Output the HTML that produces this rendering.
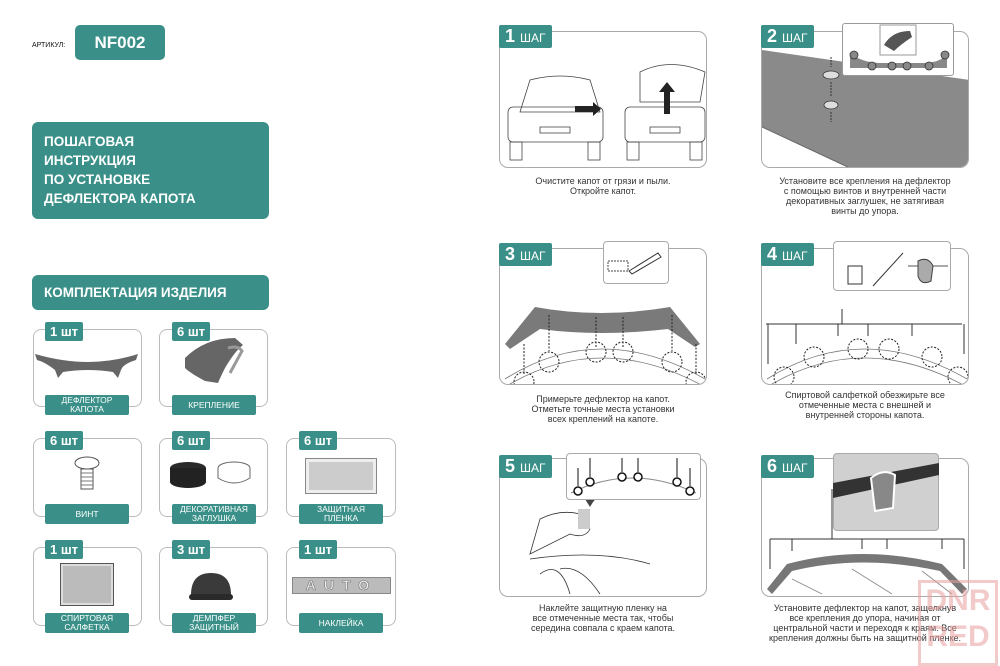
<!DOCTYPE html>
<html><head><meta charset="utf-8"><style>
*{margin:0;padding:0;box-sizing:border-box}
body{width:1000px;height:666px;background:#fff;position:relative;overflow:hidden;font-family:"Liberation Sans",sans-serif}
.a{position:absolute}
.teal{background:#3a9088;color:#fff}
.card{position:absolute;border:1px solid #bbb;border-radius:8px;background:#fff}
.qty{position:absolute;background:#3a9088;color:#fff;font-weight:bold;font-size:13px;padding:2px 5px;border-radius:2px;height:19px;line-height:15px}
.lbl{position:absolute;background:#3a9088;color:#fff;font-size:8.5px;text-align:center;line-height:9px;display:flex;align-items:center;justify-content:center;border-radius:2px}
.box{position:absolute;border:1px solid #aaa;border-radius:9px;background:#fff;overflow:hidden}
.step{position:absolute;background:#3a9088;color:#fff;font-weight:bold;font-size:18px;padding:2px 6px;height:23px;line-height:19px;border-radius:2px}
.step span{font-size:12px;font-weight:normal}
.cap{position:absolute;font-size:9px;color:#333;text-align:center;line-height:10px}
</style></head><body>

<div class="a" style="left:32px;top:42px;font-size:7px;color:#111">АРТИКУЛ:</div>
<div class="a teal" style="left:75px;top:25px;width:90px;height:35px;border-radius:5px;font-weight:bold;font-size:17px;line-height:35px;text-align:center">NF002</div>

<div class="a teal" style="left:32px;top:122px;width:237px;height:97px;border-radius:6px;font-weight:bold;font-size:13.5px;line-height:19px;padding:10px 0 0 12px">ПОШАГОВАЯ<br>ИНСТРУКЦИЯ<br>ПО УСТАНОВКЕ<br>ДЕФЛЕКТОРА КАПОТА</div>
<div class="a teal" style="left:32px;top:275px;width:237px;height:35px;border-radius:6px;font-weight:bold;font-size:13.5px;line-height:35px;padding-left:12px">КОМПЛЕКТАЦИЯ ИЗДЕЛИЯ</div>

<div class="card" style="left:33px;top:329px;width:109px;height:78px"></div>
<div class="qty" style="left:45px;top:322px">1 шт</div>
<svg class="a" style="left:33px;top:350px" width="109" height="35"><path d="M2 4 Q30 12 55 12 Q80 12 105 4 L103 10 Q90 14 88 20 L85 28 L80 22 Q55 18 30 22 L25 28 L22 20 Q12 12 4 10 Z" fill="#666"/></svg>
<div class="lbl" style="left:45px;top:395px;width:84px;height:20px">ДЕФЛЕКТОР<br>КАПОТА</div>

<div class="card" style="left:159px;top:329px;width:109px;height:78px"></div>
<div class="qty" style="left:172px;top:322px">6 шт</div>
<svg class="a" style="left:180px;top:333px" width="70" height="55"><path d="M5 25 Q25 5 55 5 L63 12 Q55 18 45 35 Q40 45 38 50 L25 48 Q10 40 5 35 Z" fill="#666"/><path d="M48 15 Q58 12 62 18 L50 40" stroke="#999" stroke-width="3" fill="none"/></svg>
<div class="lbl" style="left:172px;top:395px;width:84px;height:20px">КРЕПЛЕНИЕ</div>

<div class="card" style="left:33px;top:438px;width:109px;height:79px"></div>
<div class="qty" style="left:45px;top:431px">6 шт</div>
<svg class="a" style="left:72px;top:455px" width="30" height="40"><ellipse cx="15" cy="8" rx="12" ry="6" fill="#fff" stroke="#555"/><rect x="9" y="14" width="12" height="20" fill="#fff" stroke="#555"/><path d="M9 18h12M9 22h12M9 26h12M9 30h12" stroke="#777"/></svg>
<div class="lbl" style="left:45px;top:504px;width:84px;height:20px">ВИНТ</div>

<div class="card" style="left:159px;top:438px;width:109px;height:79px"></div>
<div class="qty" style="left:172px;top:431px">6 шт</div>
<svg class="a" style="left:168px;top:458px" width="90" height="35"><ellipse cx="20" cy="10" rx="18" ry="6" fill="#2a2a2a"/><rect x="2" y="10" width="36" height="14" fill="#222"/><ellipse cx="20" cy="24" rx="18" ry="6" fill="#222"/><ellipse cx="66" cy="10" rx="16" ry="6" fill="#fff" stroke="#666"/><path d="M50 10v10q16 10 32 0v-10" fill="#fff" stroke="#666"/></svg>
<div class="lbl" style="left:172px;top:504px;width:84px;height:20px">ДЕКОРАТИВНАЯ<br>ЗАГЛУШКА</div>

<div class="card" style="left:286px;top:438px;width:110px;height:79px"></div>
<div class="qty" style="left:299px;top:431px">6 шт</div>
<div class="a" style="left:305px;top:458px;width:72px;height:36px;border:1px solid #888;background:#ccc;box-shadow:inset 0 0 0 3px #eee"></div>
<div class="lbl" style="left:299px;top:504px;width:84px;height:20px">ЗАЩИТНАЯ<br>ПЛЕНКА</div>

<div class="card" style="left:33px;top:547px;width:109px;height:79px"></div>
<div class="qty" style="left:45px;top:540px">1 шт</div>
<div class="a" style="left:60px;top:563px;width:54px;height:43px;border:1px solid #555;background:#bbb;box-shadow:inset 0 0 0 2px #ddd"></div>
<div class="lbl" style="left:45px;top:613px;width:84px;height:20px">СПИРТОВАЯ<br>САЛФЕТКА</div>

<div class="card" style="left:159px;top:547px;width:109px;height:79px"></div>
<div class="qty" style="left:172px;top:540px">3 шт</div>
<svg class="a" style="left:186px;top:570px" width="50" height="35"><path d="M5 25 Q5 3 25 3 Q45 3 45 25 Z" fill="#3a3a3a"/><rect x="3" y="24" width="44" height="6" rx="3" fill="#2a2a2a"/></svg>
<div class="lbl" style="left:172px;top:613px;width:84px;height:20px">ДЕМПФЕР<br>ЗАЩИТНЫЙ</div>

<div class="card" style="left:286px;top:547px;width:110px;height:79px"></div>
<div class="qty" style="left:299px;top:540px">1 шт</div>
<div class="a" style="left:292px;top:577px;width:99px;height:17px;background:#bbb;border:1px solid #888;color:#eee;font-weight:bold;font-size:14px;letter-spacing:8px;text-align:center;line-height:15px;-webkit-text-stroke:0.6px #777">AUTO</div>
<div class="lbl" style="left:299px;top:613px;width:84px;height:20px">НАКЛЕЙКА</div>

<div class="box" style="left:499px;top:31px;width:208px;height:137px">
<svg width="208" height="137"><g fill="none" stroke="#444" stroke-width="0.8"><path d="M20 80 L30 48 Q60 40 90 48 L100 80 Z"/><rect x="8" y="75" width="95" height="35" rx="5"/><rect x="10" y="110" width="12" height="18"/><rect x="88" y="110" width="12" height="18"/><rect x="40" y="95" width="30" height="6"/><path d="M140 40 Q170 25 205 40 L200 70 L140 70 Z"/><rect x="125" y="75" width="80" height="35" rx="5"/><rect x="127" y="110" width="12" height="18"/><rect x="190" y="110" width="12" height="18"/><rect x="150" y="95" width="30" height="6"/></g><path d="M75 74h18v-4l8 7-8 7v-4h-18z" fill="#222"/><path d="M164 82v-22h-5l8-10 8 10h-5v22z" fill="#222"/></svg></div>
<div class="step" style="left:499px;top:25px">1 <span>ШАГ</span></div>
<div class="cap" style="left:499px;top:176px;width:208px">Очистите капот от грязи и пыли.<br>Откройте капот.</div>

<div class="box" style="left:761px;top:31px;width:208px;height:137px;border-color:#aaa">
<svg width="208" height="137"><path d="M0 18 L208 48 L208 137 L90 137 L0 95 Z" fill="#8a8a8a"/><path d="M0 95 L90 137" stroke="#666"/><g fill="#ddd" stroke="#333" stroke-width=".8"><ellipse cx="69" cy="43" rx="8" ry="4"/><ellipse cx="69" cy="73" rx="7" ry="4"/></g><path d="M69 25v10M69 50v15M69 80v10" stroke="#333" stroke-dasharray="2 1"/></svg></div>
<div class="a" style="left:842px;top:23px;width:112px;height:53px;border:1px solid #999;background:#fff;border-radius:3px"></div>
<svg class="a" style="left:842px;top:23px" width="112" height="53"><path d="M8 30 Q20 40 40 40 L80 40 Q100 40 105 30 L105 45 L8 45 Z" fill="#888"/><g fill="#888" stroke="#333" stroke-width=".8"><circle cx="12" cy="32" r="4"/><circle cx="30" cy="43" r="4"/><circle cx="50" cy="43" r="4"/><circle cx="65" cy="43" r="4"/><circle cx="87" cy="43" r="4"/><circle cx="103" cy="32" r="4"/></g><rect x="38" y="2" width="36" height="30" fill="#fff" stroke="#999"/><path d="M42 22 Q50 8 68 8 L70 14 Q58 22 52 28 Z" fill="#555"/></svg>
<div class="step" style="left:761px;top:25px">2 <span>ШАГ</span></div>
<div class="cap" style="left:761px;top:176px;width:208px">Установите все крепления на дефлектор<br>с помощью винтов и внутренней части<br>декоративных заглушек, не затягивая<br>винты до упора.</div>

<div class="box" style="left:499px;top:248px;width:208px;height:137px">
<svg width="208" height="137"><path d="M5 95 L35 58 Q100 70 170 58 L200 95 L195 98 L168 80 Q100 88 40 80 L10 100 Z" fill="#7a7a7a"/><g fill="none" stroke="#777" stroke-width=".8"><path d="M5 130 Q100 70 205 130"/><path d="M5 138 Q100 80 205 138"/></g><g fill="none" stroke="#222" stroke-dasharray="2 1.5"><circle cx="24" cy="133" r="10"/><circle cx="49" cy="113" r="10"/><circle cx="96" cy="103" r="10"/><circle cx="123" cy="103" r="10"/><circle cx="172" cy="113" r="10"/><circle cx="196" cy="133" r="10"/><path d="M49 66v36M96 68v30M123 68v30M172 66v36M24 95v30M196 95v30"/></g></svg></div>
<div class="a" style="left:603px;top:241px;width:66px;height:43px;border:1px solid #aaa;background:#fff;border-radius:4px"></div>
<svg class="a" style="left:603px;top:241px" width="66" height="43"><rect x="5" y="20" width="20" height="10" fill="none" stroke="#444" stroke-dasharray="2 1"/><path d="M26 30 L55 12 L58 16 L29 33 Z" fill="#fff" stroke="#333"/></svg>
<div class="step" style="left:499px;top:243px">3 <span>ШАГ</span></div>
<div class="cap" style="left:499px;top:394px;width:208px">Примерьте дефлектор на капот.<br>Отметьте точные места установки<br>всех креплений на капоте.</div>

<div class="box" style="left:761px;top:248px;width:208px;height:137px">
<svg width="208" height="137"><g fill="none" stroke="#777" stroke-width=".8"><path d="M5 130 Q100 70 205 130"/><path d="M5 138 Q100 80 205 138"/></g><g fill="none" stroke="#222" stroke-dasharray="2 1.5"><circle cx="22" cy="128" r="10"/><circle cx="52" cy="108" r="10"/><circle cx="96" cy="100" r="10"/><circle cx="127" cy="100" r="10"/><circle cx="170" cy="108" r="10"/><circle cx="196" cy="128" r="10"/></g><path d="M4 75H200M6 75v40M34 75v20M76 75v12M106 75v12M150 75v12M202 75v30M80 75V60" stroke="#333" fill="none"/></svg></div>
<div class="a" style="left:833px;top:241px;width:118px;height:50px;border:1px solid #aaa;background:#fff;border-radius:4px"></div>
<svg class="a" style="left:833px;top:241px" width="118" height="50"><rect x="15" y="25" width="14" height="18" fill="#fff" stroke="#333"/><path d="M40 45 L70 12" stroke="#333"/><path d="M75 25 H115" stroke="#555"/><path d="M85 20 Q95 15 100 25 L98 40 Q88 45 85 35 Z" fill="#aaa" stroke="#444"/></svg>
<div class="step" style="left:761px;top:243px">4 <span>ШАГ</span></div>
<div class="cap" style="left:761px;top:390px;width:208px">Спиртовой салфеткой обезжирьте все<br>отмеченные места с внешней и<br>внутренней стороны капота.</div>

<div class="box" style="left:499px;top:458px;width:208px;height:139px">
<svg width="208" height="139"><g fill="none" stroke="#333" stroke-width=".8"><path d="M40 60 Q60 50 80 55 L90 70 Q85 80 70 75 L30 95 Z"/><path d="M30 100 Q100 90 150 105"/><path d="M40 115 Q60 100 70 135M60 110 Q80 105 100 135"/></g><path d="M85 40 Q100 20 118 35 L110 40 Q100 30 90 48 Z" fill="#444"/><rect x="78" y="50" width="12" height="20" fill="#ccc"/></svg></div>
<div class="a" style="left:566px;top:453px;width:135px;height:47px;border:1px solid #aaa;background:#fff;border-radius:4px"></div>
<svg class="a" style="left:566px;top:453px" width="135" height="47"><path d="M5 40 Q65 10 130 40" fill="none" stroke="#888"/><g fill="#fff" stroke="#111" stroke-width="1.5"><circle cx="12" cy="38" r="4"/><circle cx="24" cy="29" r="4"/><circle cx="56" cy="24" r="4"/><circle cx="72" cy="24" r="4"/><circle cx="111" cy="29" r="4"/><circle cx="124" cy="38" r="4"/></g><path d="M12 15v18M24 5v19M56 5v14M72 5v14M111 5v19M124 15v18" stroke="#111"/></svg>
<div class="step" style="left:499px;top:455px">5 <span>ШАГ</span></div>
<div class="cap" style="left:499px;top:603px;width:208px">Наклейте защитную пленку на<br>все отмеченные места так, чтобы<br>середина совпала с краем капота.</div>

<div class="box" style="left:761px;top:458px;width:208px;height:139px">
<svg width="208" height="139"><path d="M5 130 L25 105 Q100 85 180 105 L205 130 L200 135 L178 112 Q100 95 30 112 L10 135 Z" fill="#777"/><g fill="none" stroke="#888" stroke-width=".8"><path d="M30 120 L60 135M90 110 L130 135M160 112 L190 135"/></g><path d="M8 80H202M8 80v30M30 80v12M100 80v10M125 80v10M180 80v10M202 80v30M70 80V30" stroke="#333" fill="none"/></svg></div>
<div class="a" style="left:833px;top:453px;width:106px;height:78px;border:1px solid #aaa;background:#d0d0d0;border-radius:4px;overflow:hidden"></div>
<svg class="a" style="left:833px;top:453px" width="106" height="78"><path d="M0 30 L106 10 L106 22 L0 45 Z" fill="#333"/><path d="M38 25 Q50 15 62 22 L60 55 L42 58 Z" fill="#888" stroke="#fff" stroke-width="2"/></svg>
<div class="step" style="left:761px;top:455px">6 <span>ШАГ</span></div>
<div class="cap" style="left:761px;top:603px;width:208px">Установите дефлектор на капот, защелкнув<br>все крепления до упора, начиная от<br>центральной части и переходя к краям. Все<br>крепления должны быть на защитной пленке.</div>

<div class="a" style="left:918px;top:580px;width:80px;height:86px;border:3px solid #e8a0a0;color:#e8a0a0;opacity:.55;font-weight:bold;font-size:30px;line-height:36px;text-align:center">DNR<br>RED</div>
</body></html>
